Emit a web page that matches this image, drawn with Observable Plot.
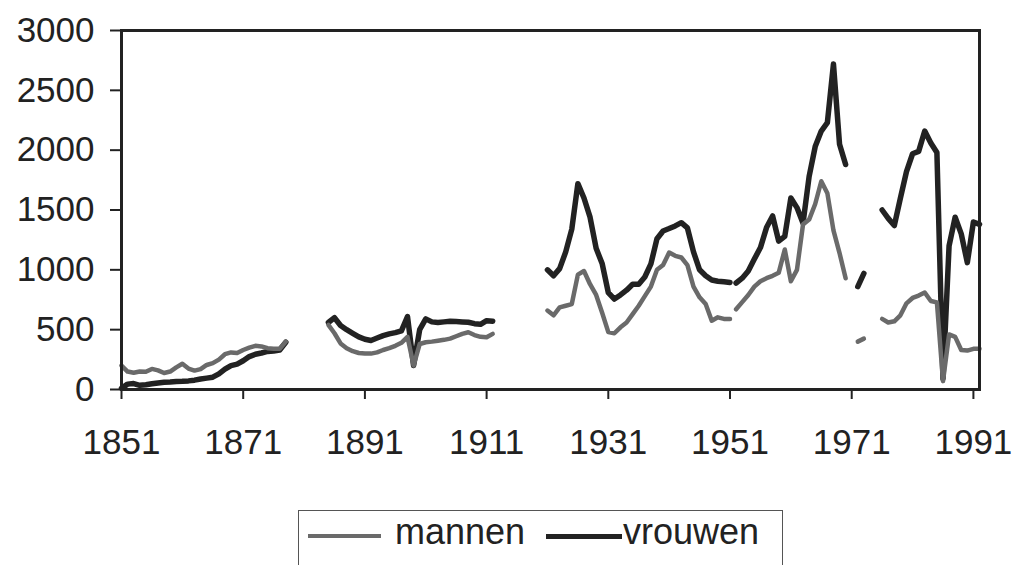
<!DOCTYPE html>
<html>
<head>
<meta charset="utf-8">
<script src="https://cdn.jsdelivr.net/npm/d3@7"></script>
<script src="https://cdn.jsdelivr.net/npm/@observablehq/plot@0.6"></script>
<style>
  body { margin: 0; background: #fff; font-family: "Liberation Sans", Arial, sans-serif; }
  #wrap { position: relative; width: 1019px; height: 565px; overflow: hidden; }
  #legend { position: absolute; left: 298px; top: 510px; width: 485px; height: 80px;
            border: 1.5px solid #555; box-sizing: border-box; }
  #legend .sw { position: absolute; }
  #legend .lbl { position: absolute; font-size: 36px; line-height: 36px; color: #222; white-space: nowrap; }
</style>
</head>
<body>
<div id="wrap">
  <div id="chart"></div>
  <div id="legend"></div>
</div>
<script>
// Tick labels
const xTicks = [1851, 1871, 1891, 1911, 1931, 1951, 1971, 1991];
const yTicks = [0, 500, 1000, 1500, 2000, 2500, 3000];

// Series names
const seriesNames = ["mannen", "vrouwen"];

// First year of each continuous segment (gaps between them)
const segmentStarts = [1851, 1885, 1921, 1952, 1972, 1976];

// mannen, one value per year within each segment
const mannen1851 = [200,150,140,150,148,172,160,138,150,185,215,175,158,170,205,220,250,295,310,305,330,350,365,360,345,340,340,400];
const mannen1885 = [540,470,385,345,320,305,300,300,310,330,345,365,390,440,200,380,395,400,408,415,425,445,465,478,455,440,436,465];
const mannen1921 = [660,620,686,700,714,960,990,880,790,640,480,470,520,560,630,700,780,860,1000,1040,1144,1117,1103,1040,860,770,714,575,603,590,589];
const mannen1952 = [670,730,790,860,905,930,950,975,1170,905,1000,1380,1420,1550,1740,1640,1330,1140,930];
const mannen1972 = [400,425];
const mannen1976 = [590,560,570,620,720,765,785,811,740,728,70,460,440,330,325,340,340];

// vrouwen, one value per year within each segment
const vrouwen1851 = [10,45,50,35,40,48,55,60,62,66,68,72,78,88,95,103,130,170,200,212,240,275,295,305,318,322,330,395];
const vrouwen1885 = [560,600,535,500,470,440,420,410,430,450,465,475,490,610,200,500,590,565,560,565,570,568,565,562,550,545,575,570];
const vrouwen1921 = [1000,950,1010,1150,1340,1720,1600,1440,1180,1050,810,756,790,830,880,880,940,1050,1260,1325,1345,1367,1394,1350,1150,1000,950,915,905,900,894];
const vrouwen1952 = [890,930,990,1090,1186,1353,1450,1240,1280,1600,1520,1390,1780,2030,2160,2230,2720,2050,1880];
const vrouwen1972 = [860,970];
const vrouwen1976 = [1500,1430,1370,1600,1820,1970,1990,2160,2060,1980,90,1200,1440,1300,1060,1400,1380];

const mannenSegs = [mannen1851, mannen1885, mannen1921, mannen1952, mannen1972, mannen1976];
const vrouwenSegs = [vrouwen1851, vrouwen1885, vrouwen1921, vrouwen1952, vrouwen1972, vrouwen1976];

const colors = { mannen: "#6a6a6a", vrouwen: "#222222" };

const rows = [];
segmentStarts.forEach((start, s) => {
  mannenSegs[s].forEach((v, i) => {
    rows.push({ year: start + i, seg: s, mannen: v, vrouwen: vrouwenSegs[s][i] });
  });
});

const chart = Plot.plot({
  width: 1019,
  height: 500,
  marginLeft: 121,
  marginRight: 40,
  marginTop: 30,
  marginBottom: 111,
  style: { fontSize: "35px", fontFamily: "'Liberation Sans', Arial, sans-serif", color: "#222", background: "#fff" },
  x: { domain: [1851, 1992] },
  y: { domain: [0, 3000] },
  marks: [
    Plot.axisY({ ticks: yTicks, tickSize: 11, tickPadding: 16, label: null, tickFormat: d => String(d), strokeWidth: 2 }),
    Plot.axisX({ ticks: xTicks, tickSize: 10, tickPadding: 30, label: null, tickFormat: d => String(d), strokeWidth: 2 }),
    Plot.line(rows, { x: "year", y: "vrouwen", z: "seg", stroke: colors.vrouwen, strokeWidth: 5.5 }),
    Plot.line(rows, { x: "year", y: "mannen", z: "seg", stroke: colors.mannen, strokeWidth: 4.5 }),
    Plot.frame({ stroke: "#222", strokeWidth: 3 })
  ]
});
document.getElementById("chart").appendChild(chart);

// Legend
const legend = document.getElementById("legend");
const legendItems = [
  { name: seriesNames[0], color: colors.mannen, lineLeft: 8.5, lineWidth: 73, thick: 3.5, textLeft: 96 },
  { name: seriesNames[1], color: colors.vrouwen, lineLeft: 247, lineWidth: 76, thick: 5, textLeft: 324 }
];
legendItems.forEach(it => {
  const sw = document.createElement("div");
  sw.className = "sw";
  sw.style.left = it.lineLeft + "px";
  sw.style.width = it.lineWidth + "px";
  sw.style.height = it.thick + "px";
  sw.style.top = (25 - it.thick / 2) + "px";
  sw.style.background = it.color;
  legend.appendChild(sw);
  const t = document.createElement("div");
  t.className = "lbl";
  t.style.left = it.textLeft + "px";
  t.style.top = "3px";
  t.textContent = it.name;
  legend.appendChild(t);
});
</script>
</body>
</html>
